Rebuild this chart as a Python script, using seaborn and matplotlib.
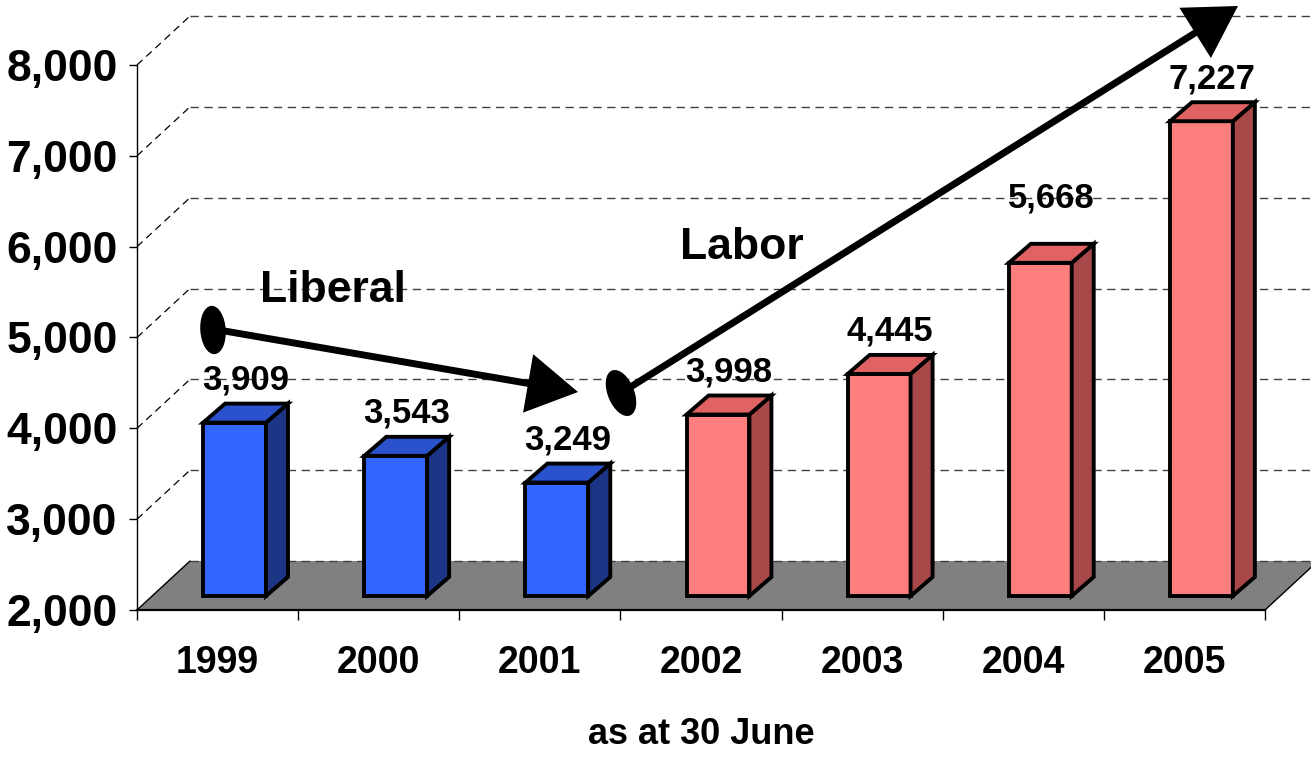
import numpy as np
import pandas as pd
import matplotlib
matplotlib.use("Agg")
import matplotlib.pyplot as plt
import seaborn as sns
from matplotlib.patches import Polygon, Ellipse, FancyArrowPatch, ArrowStyle
from matplotlib.transforms import IdentityTransform, offset_copy

# ---------------- data ----------------
years = ["1999", "2000", "2001", "2002", "2003", "2004", "2005"]
counts = [3909, 3543, 3249, 3998, 4445, 5668, 7227]
party = ["Liberal", "Liberal", "Liberal", "Labor", "Labor", "Labor", "Labor"]
yticks = [2000, 3000, 4000, 5000, 6000, 7000, 8000]
ytick_labels = ["2,000", "3,000", "4,000", "5,000", "6,000", "7,000", "8,000"]
xlabel = "as at 30 June"

df = pd.DataFrame({"year": years, "count": counts, "party": party})

# ---------------- style ----------------
sns.set_theme(style="white")
plt.rcParams["font.family"] = ["Liberation Sans", "DejaVu Sans"]

front_col = {"Liberal": "#3366FF", "Labor": "#FF7F7F"}
top_col = {"Liberal": "#2A52CC", "Labor": "#E06262"}
side_col = {"Liberal": "#1C3585", "Labor": "#A84848"}

W, H = 1311, 758
fig = plt.figure(figsize=(W / 100, H / 100), dpi=100)

# front plane (pixels)
FL, FR, FT, FB = 137, 1265, 65, 610
YMIN, YMAX = yticks[0], yticks[-1]
ncat = len(years)
px_cat = (FR - FL) / ncat
px_val = (FB - FT) / (YMAX - YMIN)


def axpos(dx, dy):
    return [(FL + dx) / W, (H - FB + dy) / H, (FR - FL) / W, (FB - FT) / H]


back = fig.add_axes(axpos(53, 49), zorder=0)
bars_ax = fig.add_axes(axpos(17, 14), zorder=1)
front = fig.add_axes(axpos(0, 0), zorder=2)

# ---------------- back wall, left wall and floor ----------------
bdx, bdy = 53 / px_cat, 49 / px_val
for a in (back, bars_ax, front):
    a.patch.set_alpha(0)

floor = Polygon([(-0.5 - bdx, YMIN - bdy), (ncat - 0.5 - bdx, YMIN - bdy),
                 (ncat - 0.5, YMIN), (-0.5, YMIN)], closed=True,
                facecolor="#808080", edgecolor="none", clip_on=False, zorder=1)
back.add_patch(floor)
back.hlines(yticks[1:], -0.5, ncat - 0.5, colors="#404040", linewidth=1,
            linestyles=(0, (6, 4)), clip_on=False, zorder=0)
back.hlines([YMIN], -0.5, ncat - 0.5, colors="#404040", linewidth=1,
            linestyles=(0, (6, 4)), clip_on=False, zorder=2)
for yv in yticks[1:]:
    back.plot([-0.5 - bdx, -0.5], [yv - bdy, yv], color="black", lw=0.9,
              ls=(0, (6, 4)), clip_on=False, zorder=0)
back.plot([-0.5 - bdx, -0.5], [YMIN - bdy, YMIN], color="black", lw=1,
          clip_on=False, zorder=2)
back.plot([ncat - 0.5 - bdx, ncat - 0.5], [YMIN - bdy, YMIN], color="black",
          lw=1, clip_on=False, zorder=2)
back.set_xlim(-0.5, ncat - 0.5)
back.set_ylim(YMIN, YMAX)
back.set_axis_off()

# ---------------- bars ----------------
sns.barplot(data=df, x="year", y="count", hue="party", order=years,
            hue_order=["Liberal", "Labor"], palette=front_col, saturation=1,
            dodge=False, width=0.39, edgecolor="black", linewidth=2.8,
            legend=False, ax=bars_ax)
bars_ax.set_xlim(-0.5, ncat - 0.5)
bars_ax.set_ylim(YMIN, YMAX)
bars_ax.set_axis_off()

ddx, ddy = 22 / px_cat, 19 / px_val
label_lift = [0, 0, 0, 0, 0, 22, 0]
for p in list(bars_ax.patches):
    h = p.get_height()
    if h <= 0:
        continue
    x0 = p.get_x()
    w = p.get_width()
    x1 = x0 + w
    idx = int(round(x0 + w / 2))
    pty = party[idx]
    p.set_y(YMIN)
    p.set_height(h - YMIN)
    p.set_clip_on(False)
    p.set_joinstyle("miter")
    top = Polygon([(x0, h), (x1, h), (x1 + ddx, h + ddy), (x0 + ddx, h + ddy)],
                  closed=True, facecolor=top_col[pty], edgecolor="black",
                  linewidth=2.8, clip_on=False, joinstyle="miter", zorder=3)
    side = Polygon([(x1, YMIN), (x1 + ddx, YMIN + ddy), (x1 + ddx, h + ddy), (x1, h)],
                   closed=True, facecolor=side_col[pty], edgecolor="black",
                   linewidth=2.8, clip_on=False, joinstyle="miter", zorder=3)
    bars_ax.add_patch(side)
    bars_ax.add_patch(top)
    tr = offset_copy(bars_ax.transData, fig=fig, x=0, y=14 + label_lift[idx], units="dots")
    bars_ax.text(x0 + w / 2 + ddx / 2, h + ddy, f"{counts[idx]:,}", transform=tr,
                 ha="center", va="baseline", fontsize=25, fontweight="bold",
                 color="black", clip_on=False, zorder=5)

# ---------------- front axes ----------------
front.set_xlim(-0.5, ncat - 0.5)
front.set_ylim(YMIN, YMAX)
for s in ("top", "right"):
    front.spines[s].set_visible(False)
front.spines["left"].set_linewidth(1)
front.spines["left"].set_color("black")
front.spines["bottom"].set_linewidth(1.6)
front.spines["bottom"].set_color("black")
front.set_xticks(range(ncat))
front.set_xticklabels(years)
front.set_xticks(np.arange(-0.5, ncat, 1), minor=True)
front.tick_params(axis="x", which="major", length=0, pad=25, labelsize=27)
front.tick_params(axis="x", which="minor", length=7, width=1, direction="out",
                  bottom=True, color="black")
front.set_yticks(yticks)
front.set_yticklabels(ytick_labels)
front.tick_params(axis="y", which="major", length=6, width=1, direction="out",
                  left=True, pad=8, labelsize=32, color="black")
for lab in front.get_xticklabels() + front.get_yticklabels():
    lab.set_fontweight("bold")
    lab.set_color("black")
front.set_xlabel(xlabel, fontsize=26, fontweight="bold", labelpad=26, color="black")
front.grid(False)


# ---------------- annotations (pixel positions -> front data) ----------------
def pdata(px, py):
    return ((px - FL) / px_cat - 0.5, YMIN + (FB - py) / px_val)


def add_arrow(p0, p1):
    arr = FancyArrowPatch(pdata(*p0), pdata(*p1),
                          arrowstyle=ArrowStyle("-|>", head_length=29, head_width=17),
                          mutation_scale=1, lw=5, color="black", shrinkA=0,
                          shrinkB=0, transform=front.transData, clip_on=False,
                          zorder=6, joinstyle="miter", capstyle="butt")
    front.add_patch(arr)


def add_blob(cx, cy, w, h, ang):
    e = Ellipse((cx, H - cy), w, h, angle=ang, transform=IdentityTransform(),
                facecolor="black", edgecolor="black", clip_on=False, zorder=7)
    front.add_artist(e)


add_arrow((213, 329), (578, 392))
add_blob(213, 330, 24, 47, 4)
add_arrow((621, 393), (1238, 6))
add_blob(621, 393, 25, 47, 22)

front.text(*pdata(333, 302), "Liberal", ha="center", va="baseline",
           fontsize=32, fontweight="bold", color="black", zorder=8)
front.text(*pdata(742, 259), "Labor", ha="center", va="baseline",
           fontsize=32, fontweight="bold", color="black", zorder=8)

fig.savefig("out.png", dpi=100)
